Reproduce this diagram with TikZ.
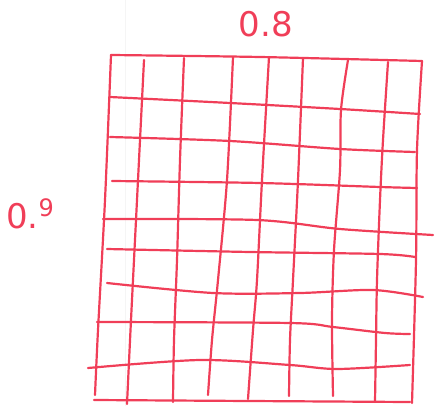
\documentclass[tikz,border=0pt]{standalone}
\usepackage{fontspec}
\setmainfont{DejaVu Sans}
\definecolor{pen}{RGB}{240,62,88}
\begin{document}
\begin{tikzpicture}[x=1pt,y=-1pt,
  ink/.style={draw=pen,line width=2.2pt,line cap=round,line join=round},
  lbl/.style={text=pen,font=\fontsize{34}{34}\selectfont,inner sep=0pt}]
\useasboundingbox (0,0) rectangle (435,406);
% faint paper margin
\draw[black!4,line width=0.8pt] (125,0) -- (125,406);
% outer frame
\draw[ink] plot[smooth] coordinates {(111,55) (260,57) (422,61)};
\draw[ink] plot[smooth] coordinates {(111,55) (105,200) (98,330) (95,395)};
\draw[ink] plot[smooth] coordinates {(422,61) (417,150) (416,260) (412,403)};
\draw[ink] plot[smooth] coordinates {(94,400) (250,401) (410,402)};
% horizontal lines
\draw[ink] plot[smooth] coordinates {(110,97) (230,103) (340,109) (420,114)};
\draw[ink] plot[smooth] coordinates {(110,137) (230,141) (340,149) (415,152)};
\draw[ink] plot[smooth] coordinates {(112,181) (260,183) (380,187) (417,188)};
\draw[ink] plot[smooth] coordinates {(103,219) (257,220) (340,229) (433,235)};
\draw[ink] plot[smooth] coordinates {(107,249) (250,252) (380,254) (415,257)};
\draw[ink] plot[smooth] coordinates {(107,283) (213,293) (300,293) (373,290) (423,297)};
\draw[ink] plot[smooth] coordinates {(97,322) (290,323) (333,327) (385,333) (410,334)};
\draw[ink] plot[smooth] coordinates {(88,368) (200,360) (290,365) (337,369) (410,365)};
% vertical lines
\draw[ink] plot[smooth] coordinates {(144,60) (140,140) (136,220) (131,320) (127,404)};
\draw[ink] plot[smooth] coordinates {(184,58) (180,160) (177,260) (174,340) (173,402)};
\draw[ink] plot[smooth] coordinates {(233,57) (227,180) (218,280) (212,340) (208,395)};
\draw[ink] plot[smooth] coordinates {(269,57) (262,180) (257,280) (253,330) (248,399)};
\draw[ink] plot[smooth] coordinates {(303,58) (298,180) (293,280) (290,340) (289,396)};
\draw[ink] plot[smooth] coordinates {(348,60) (341,110) (340,170) (334,250) (332,320) (333,396)};
\draw[ink] plot[smooth] coordinates {(388,62) (383,140) (380,200) (377,280) (376,340) (375,402)};
% labels
\node[lbl] (top) at (266,24) {0.8};
\node[lbl,anchor=base west] (left) at (6,228) {0.\raisebox{12pt}{\fontsize{24}{24}\selectfont 9}};
\end{tikzpicture}
\end{document}
